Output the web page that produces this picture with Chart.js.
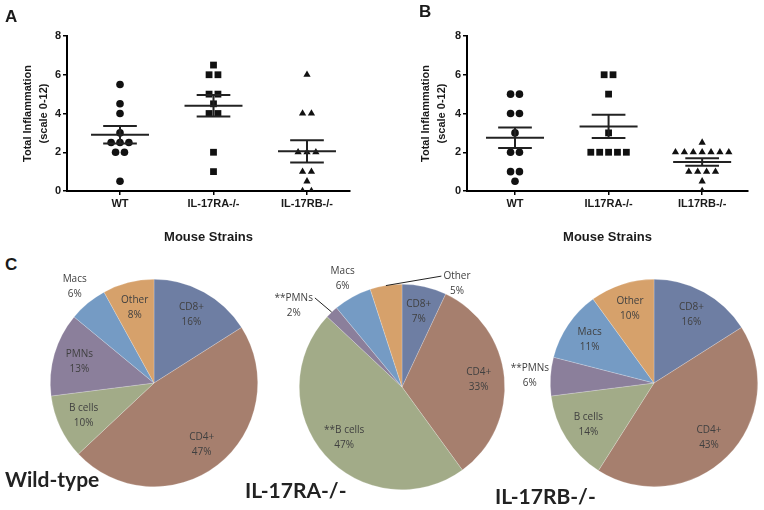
<!DOCTYPE html>
<html>
<head>
<meta charset="utf-8">
<script src="https://cdn.jsdelivr.net/npm/chart.js@4.4.0/dist/chart.umd.min.js"></script>
<style>
body { margin: 0; background: #fff; }
#fig { position: relative; width: 764px; height: 510px; background: #fff; overflow: hidden; }
#fig canvas { position: absolute; }
.panel { position: absolute; font-family: 'Liberation Sans', Arial, sans-serif; font-weight: bold; font-size: 17px; line-height: 1; color: #1a1a1a; }
.strain { position: absolute; font-family: Lato, 'Open Sans', sans-serif; font-weight: bold; font-size: 21px; line-height: 1; color: #222; white-space: nowrap; }
</style>
</head>
<body>
<div id="fig">
  <canvas id="chartA" width="370" height="250" style="left:0;top:0"></canvas>
  <canvas id="chartB" width="394" height="250" style="left:370px;top:0"></canvas>
  <canvas id="pieWT" width="268" height="250" style="left:20px;top:255px"></canvas>
  <canvas id="pieRA" width="250" height="250" style="left:265px;top:255px"></canvas>
  <canvas id="pieRB" width="264" height="250" style="left:500px;top:255px"></canvas>
  <div class="panel" style="left:5px;top:8px">A</div>
  <div class="panel" style="left:419px;top:3px">B</div>
  <div class="panel" style="left:5px;top:256px">C</div>
  <div class="strain" style="left:5px;top:468px">Wild-type</div>
  <div class="strain" style="left:245px;top:479px">IL-17RA-/-</div>
  <div class="strain" style="left:495px;top:485px">IL-17RB-/-</div>
</div>
<script>
// panel A scores
var strainsA = ['WT', 'IL-17RA-/-', 'IL-17RB-/-'];
var wtA = [5.5, 4.5, 4, 3, 2.5, 2.5, 2.5, 2, 2, 0.5];
var raA = [6.5, 6, 6, 5, 5, 4.5, 4, 4, 2, 1];
var rbA = [6, 4, 4, 2, 2, 2, 1, 1, 0.5, 0, 0];

// panel B scores
var strainsB = ['WT', 'IL17RA-/-', 'IL17RB-/-'];
var wtB = [5, 5, 4, 4, 3, 2, 2, 1, 1, 0.5];
var raB = [6, 6, 5, 3, 2, 2, 2, 2, 2];
var rbB = [2.5, 2, 2, 2, 2, 2, 2, 2, 1, 1, 1, 1, 0.5, 0];

var yTicks = [0, 2, 4, 6, 8];

// panel C, percent of cells
var cellsWT = ['CD8+', 'CD4+', 'B cells', 'PMNs', 'Macs', 'Other'];
var cellsRA = ['CD8+', 'CD4+', '**B cells', '**PMNs', 'Macs', 'Other'];
var cellsRB = ['CD8+', 'CD4+', 'B cells', '**PMNs', 'Macs', 'Other'];
var pctWT = [16, 47, 10, 13, 6, 8];
var pctRA = [7, 33, 47, 2, 6, 5];
var pctRB = [16, 43, 14, 6, 11, 10];

var sliceColors = ['#6e7ea3', '#a67f6e', '#a2ab88', '#8b7f9b', '#759bc4', '#d6a16b'];
var ink = '#1a1a1a';
var arial = "'Liberation Sans', Arial, sans-serif";

// equal scores sit side by side around the strain position
function spread(values, center, gap) {
    var counts = {}, seen = {};
    values.forEach(function (v) { counts[v] = (counts[v] || 0) + 1; });
    return values.map(function (v) {
        seen[v] = (seen[v] || 0) + 1;
        return { x: center + (seen[v] - 1 - (counts[v] - 1) / 2) * gap, y: v };
    });
}

function meanSem(values) {
    var n = values.length;
    var mean = values.reduce(function (a, b) { return a + b; }, 0) / n;
    var ss = values.reduce(function (a, b) { return a + (b - mean) * (b - mean); }, 0);
    return { mean: mean, sem: Math.sqrt(ss / (n - 1)) / Math.sqrt(n) };
}

var meanBars = {
    id: 'meanBars',
    afterDatasetsDraw: function (chart) {
        var ctx = chart.ctx, xs = chart.scales.x, ys = chart.scales.y;
        var seg = function (x1, y1, x2, y2) {
            ctx.beginPath();
            ctx.moveTo(xs.getPixelForValue(x1), ys.getPixelForValue(y1));
            ctx.lineTo(xs.getPixelForValue(x2), ys.getPixelForValue(y2));
            ctx.stroke();
        };
        ctx.save();
        ctx.strokeStyle = '#222';
        ctx.lineWidth = 2;
        chart.data.datasets.forEach(function (ds, i) {
            var s = meanSem(ds.scores);
            seg(i - 0.31, s.mean, i + 0.31, s.mean);
            seg(i - 0.18, s.mean + s.sem, i + 0.18, s.mean + s.sem);
            seg(i - 0.18, s.mean - s.sem, i + 0.18, s.mean - s.sem);
            seg(i, s.mean - s.sem, i, s.mean + s.sem);
        });
        ctx.restore();
    }
};

function scatterChart(id, strains, groups, o) {
    var shapes = ['circle', 'rect', 'triangle'];
    var radii = [3.8, 4.8, 4.2];
    return new Chart(document.getElementById(id), {
        type: 'scatter',
        data: {
            datasets: groups.map(function (g, i) {
                return {
                    scores: g,
                    data: spread(g, i, 0.095),
                    pointStyle: shapes[i],
                    pointRadius: radii[i],
                    backgroundColor: '#111',
                    borderColor: '#111',
                    borderWidth: 0
                };
            })
        },
        options: {
            responsive: false,
            animation: false,
            layout: { padding: { left: 0, right: o.padRight, top: 36, bottom: 0 } },
            plugins: { legend: { display: false }, tooltip: { enabled: false } },
            scales: {
                x: {
                    type: 'linear', min: o.xMin, max: o.xMax,
                    afterBuildTicks: function (s) { s.ticks = strains.map(function (_, i) { return { value: i }; }); },
                    afterFit: function (s) { s.height = 59; },
                    ticks: {
                        callback: function (v) { return strains[v]; },
                        font: { family: arial, size: 11, weight: 'bold' },
                        color: ink, padding: 2, maxRotation: 0, autoSkip: false
                    },
                    grid: { drawOnChartArea: false, tickLength: 4, color: '#000', lineWidth: 1.5 },
                    border: { color: '#000', width: 2 },
                    title: {
                        display: true, text: 'Mouse Strains', color: ink,
                        font: { family: arial, size: 13, weight: 'bold' },
                        padding: { top: 0, bottom: 5 }
                    }
                },
                y: {
                    min: 0, max: 8,
                    afterBuildTicks: function (s) { s.ticks = yTicks.map(function (v) { return { value: v }; }); },
                    afterFit: function (s) { s.width = o.yWidth; },
                    ticks: { font: { family: arial, size: 11, weight: 'bold' }, color: ink, padding: 2 },
                    grid: { drawOnChartArea: false, tickLength: 4, color: '#000', lineWidth: 1.5 },
                    border: { color: '#000', width: 2 },
                    title: {
                        display: true, text: ['Total Inflammation', '(scale 0-12)'], color: ink,
                        font: { family: arial, size: 11, weight: 'bold', lineHeight: 1.45 },
                        padding: { top: o.titlePad, bottom: 0 }
                    }
                }
            }
        },
        plugins: [meanBars]
    });
}

// slice labels: inside for big slices, outside for small ones, a few moved by hand
function sliceLabels(tweaks) {
    return {
        id: 'sliceLabels',
        afterDatasetsDraw: function (chart) {
            var ctx = chart.ctx, meta = chart.getDatasetMeta(0), ds = chart.data.datasets[0];
            ctx.save();
            ctx.font = '10px "Open Sans"';
            ctx.fillStyle = '#404040';
            ctx.textAlign = 'center';
            ctx.textBaseline = 'middle';
            meta.data.forEach(function (arc, i) {
                var p = arc.getProps(['x', 'y', 'startAngle', 'endAngle', 'outerRadius'], true);
                var mid = (p.startAngle + p.endAngle) / 2;
                var v = ds.data[i];
                var tw = tweaks[i] || {};
                var ang = tw.angle !== undefined ? (tw.angle - 90) * Math.PI / 180 : mid;
                var rr = p.outerRadius * (tw.r || (v < 7 ? 1.2 : 0.75));
                var lx = p.x + Math.cos(ang) * rr, ly = p.y + Math.sin(ang) * rr;
                var name = chart.data.labels[i];
                ctx.fillText(name, lx, ly - 7.5);
                ctx.fillText(v + '%', lx, ly + 7.5);
                if (tw.leader) {
                    var ax = p.x + Math.cos(mid) * p.outerRadius, ay = p.y + Math.sin(mid) * p.outerRadius;
                    var w = ctx.measureText(name).width / 2 + 2;
                    ctx.beginPath();
                    ctx.moveTo(ax, ay);
                    ctx.lineTo(lx > ax ? lx - w : lx + w, ly - 7.5);
                    ctx.strokeStyle = '#222';
                    ctx.lineWidth = 1;
                    ctx.stroke();
                }
            });
            ctx.restore();
        }
    };
}

function pieChart(id, names, values, pad, tweaks) {
    return new Chart(document.getElementById(id), {
        type: 'pie',
        data: {
            labels: names,
            datasets: [{ data: values, backgroundColor: sliceColors, borderColor: 'rgba(255,255,255,0.35)', borderWidth: 0.6 }]
        },
        options: {
            responsive: false,
            animation: false,
            layout: { padding: pad },
            plugins: { legend: { display: false }, tooltip: { enabled: false } }
        },
        plugins: [sliceLabels(tweaks)]
    });
}

scatterChart('chartA', strainsA, [wtA, raA, rbA], { yWidth: 67, padRight: 20, xMin: -0.567, xMax: 2.46, titlePad: 20 });
scatterChart('chartB', strainsB, [wtB, raB, rbB], { yWidth: 97, padRight: 16, xMin: -0.513, xMax: 2.49, titlePad: 48 });

pieChart('pieWT', cellsWT, pctWT, { left: 30, right: 30, top: 24, bottom: 18 }, {});
pieChart('pieRA', cellsRA, pctRA, { left: 34, right: 10, top: 29, bottom: 15 },
    { 3: { angle: 307, r: 1.32, leader: true }, 5: { angle: 28, r: 1.14, leader: true } });
pieChart('pieRB', cellsRB, pctRB, { left: 50, right: 6, top: 24, bottom: 18 }, {});
</script>
</body>
</html>
